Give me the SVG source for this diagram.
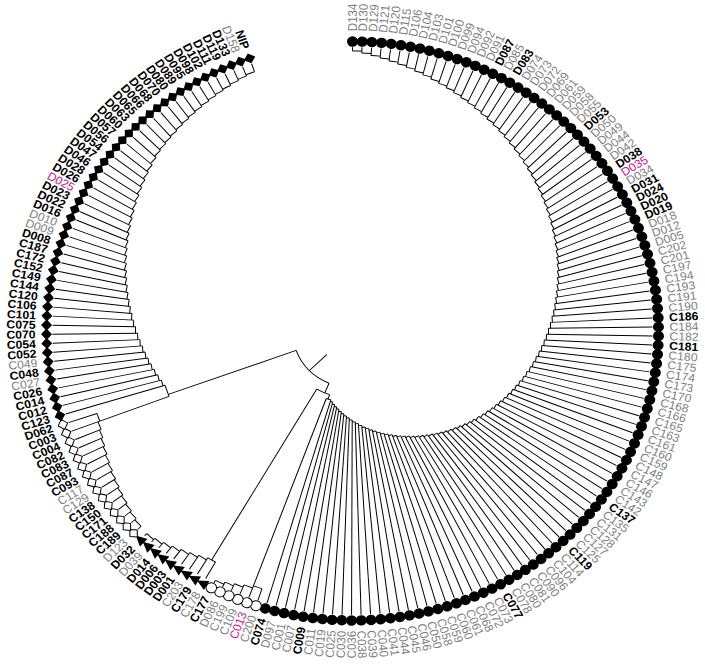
<svg xmlns="http://www.w3.org/2000/svg" width="705" height="671" viewBox="0 0 705 671">
<style>
text{font-family:"Liberation Sans",Arial,Helvetica,sans-serif;font-size:12.2px}
.g{fill:#808080}
.b{fill:#000;font-weight:bold}
.m{fill:#c0168e}
.f{text-anchor:end}
#edges path{stroke:#000;stroke-width:1;fill:none}
#edges circle{fill:none;stroke:#000;stroke-width:1;stroke-dasharray:1.82 400}
</style>
<defs>
<circle id="fc" r="5.5" fill="#000"/>
<circle id="oc" r="5.3" fill="#fff" stroke="#000" stroke-width="1"/>
<path id="tr" d="M0,6.5L-5.5,-4.5L5.5,-4.5Z" fill="#000"/>
<path id="fd" d="M-5.5,0L0,-6L5.5,0L0,6Z" fill="#000"/>
<path id="od" d="M-5,0L0,-5.5L5,0L0,5.5Z" fill="#fff" stroke="#000" stroke-width="1"/>
</defs>
<rect width="705" height="671" fill="#fff"/>
<g transform="translate(352.5,331) scale(1,0.946)">
<g id="edges">
<path transform="rotate(135.9)" d="M36 0H60"/>
<circle transform="rotate(113)" r="60" pathLength="360" style="stroke-dasharray:47 400"/>
<path transform="rotate(113)" d="M60 0H71"/>
<circle transform="rotate(108.8)" r="71" pathLength="360" style="stroke-dasharray:11.4 400"/>
<path transform="rotate(108.8)" d="M71 0H76"/>
<circle transform="rotate(106.56)" r="76" pathLength="360" style="stroke-dasharray:3.64 400"/>
<path transform="rotate(110.2)" d="M76 0H287"/>
<path transform="rotate(120.2)" d="M71 0H280"/>
<path transform="rotate(160)" d="M60 0H196"/>
<circle transform="rotate(159.34)" r="196" pathLength="360" style="stroke-dasharray:3.64 400"/>
<path transform="rotate(159.34)" d="M196 0H270"/>
<path transform="rotate(-90)" d="M296 0H300"/><circle transform="rotate(-90)" r="296" pathLength="360"/>
<path transform="rotate(-88.18)" d="M294 0H300"/><circle transform="rotate(-88.18)" r="294" pathLength="360"/>
<path transform="rotate(-86.36)" d="M291.9 0H300"/><circle transform="rotate(-86.36)" r="291.9" pathLength="360"/>
<path transform="rotate(-84.54)" d="M289.9 0H300"/><circle transform="rotate(-84.54)" r="289.9" pathLength="360"/>
<path transform="rotate(-82.72)" d="M287.8 0H300"/><circle transform="rotate(-82.72)" r="287.8" pathLength="360"/>
<path transform="rotate(-80.9)" d="M285.8 0H300"/><circle transform="rotate(-80.9)" r="285.8" pathLength="360"/>
<path transform="rotate(-79.08)" d="M283.8 0H300"/><circle transform="rotate(-79.08)" r="283.8" pathLength="360"/>
<path transform="rotate(-77.26)" d="M281.7 0H300"/><circle transform="rotate(-77.26)" r="281.7" pathLength="360"/>
<path transform="rotate(-75.44)" d="M279.7 0H300"/><circle transform="rotate(-75.44)" r="279.7" pathLength="360"/>
<path transform="rotate(-73.62)" d="M277.6 0H300"/><circle transform="rotate(-73.62)" r="277.6" pathLength="360"/>
<path transform="rotate(-71.8)" d="M275.6 0H300"/><circle transform="rotate(-71.8)" r="275.6" pathLength="360"/>
<path transform="rotate(-69.98)" d="M273.6 0H300"/><circle transform="rotate(-69.98)" r="273.6" pathLength="360"/>
<path transform="rotate(-68.16)" d="M271.5 0H300"/><circle transform="rotate(-68.16)" r="271.5" pathLength="360"/>
<path transform="rotate(-66.34)" d="M269.5 0H300"/><circle transform="rotate(-66.34)" r="269.5" pathLength="360"/>
<path transform="rotate(-64.52)" d="M267.4 0H300"/><circle transform="rotate(-64.52)" r="267.4" pathLength="360"/>
<path transform="rotate(-62.7)" d="M265.4 0H300"/><circle transform="rotate(-62.7)" r="265.4" pathLength="360"/>
<path transform="rotate(-60.88)" d="M263.4 0H300"/><circle transform="rotate(-60.88)" r="263.4" pathLength="360"/>
<path transform="rotate(-59.06)" d="M261.3 0H300"/><circle transform="rotate(-59.06)" r="261.3" pathLength="360"/>
<path transform="rotate(-57.24)" d="M259.3 0H300"/><circle transform="rotate(-57.24)" r="259.3" pathLength="360"/>
<path transform="rotate(-55.42)" d="M257.2 0H300"/><circle transform="rotate(-55.42)" r="257.2" pathLength="360"/>
<path transform="rotate(-53.6)" d="M255.2 0H300"/><circle transform="rotate(-53.6)" r="255.2" pathLength="360"/>
<path transform="rotate(-51.78)" d="M253.2 0H300"/><circle transform="rotate(-51.78)" r="253.2" pathLength="360"/>
<path transform="rotate(-49.96)" d="M251.1 0H300"/><circle transform="rotate(-49.96)" r="251.1" pathLength="360"/>
<path transform="rotate(-48.14)" d="M249.1 0H300"/><circle transform="rotate(-48.14)" r="249.1" pathLength="360"/>
<path transform="rotate(-46.32)" d="M247 0H300"/><circle transform="rotate(-46.32)" r="247" pathLength="360"/>
<path transform="rotate(-44.5)" d="M245 0H300"/><circle transform="rotate(-44.5)" r="245" pathLength="360"/>
<path transform="rotate(-42.68)" d="M243 0H300"/><circle transform="rotate(-42.68)" r="243" pathLength="360"/>
<path transform="rotate(-40.86)" d="M240.9 0H300"/><circle transform="rotate(-40.86)" r="240.9" pathLength="360"/>
<path transform="rotate(-39.04)" d="M238.9 0H300"/><circle transform="rotate(-39.04)" r="238.9" pathLength="360"/>
<path transform="rotate(-37.22)" d="M236.8 0H300"/><circle transform="rotate(-37.22)" r="236.8" pathLength="360"/>
<path transform="rotate(-35.4)" d="M234.8 0H300"/><circle transform="rotate(-35.4)" r="234.8" pathLength="360"/>
<path transform="rotate(-33.58)" d="M232.8 0H300"/><circle transform="rotate(-33.58)" r="232.8" pathLength="360"/>
<path transform="rotate(-31.76)" d="M230.7 0H300"/><circle transform="rotate(-31.76)" r="230.7" pathLength="360"/>
<path transform="rotate(-29.94)" d="M228.7 0H300"/><circle transform="rotate(-29.94)" r="228.7" pathLength="360"/>
<path transform="rotate(-28.12)" d="M226.6 0H300"/><circle transform="rotate(-28.12)" r="226.6" pathLength="360"/>
<path transform="rotate(-26.3)" d="M224.6 0H300"/><circle transform="rotate(-26.3)" r="224.6" pathLength="360"/>
<path transform="rotate(-24.48)" d="M222.6 0H300"/><circle transform="rotate(-24.48)" r="222.6" pathLength="360"/>
<path transform="rotate(-22.66)" d="M220.5 0H300"/><circle transform="rotate(-22.66)" r="220.5" pathLength="360"/>
<path transform="rotate(-20.84)" d="M218.5 0H300"/><circle transform="rotate(-20.84)" r="218.5" pathLength="360"/>
<path transform="rotate(-19.02)" d="M216.4 0H300"/><circle transform="rotate(-19.02)" r="216.4" pathLength="360"/>
<path transform="rotate(-17.2)" d="M214.4 0H300"/><circle transform="rotate(-17.2)" r="214.4" pathLength="360"/>
<path transform="rotate(-15.38)" d="M212.4 0H300"/><circle transform="rotate(-15.38)" r="212.4" pathLength="360"/>
<path transform="rotate(-13.56)" d="M210.3 0H300"/><circle transform="rotate(-13.56)" r="210.3" pathLength="360"/>
<path transform="rotate(-11.74)" d="M208.3 0H300"/><circle transform="rotate(-11.74)" r="208.3" pathLength="360"/>
<path transform="rotate(-9.92)" d="M206.2 0H300"/><circle transform="rotate(-9.92)" r="206.2" pathLength="360"/>
<path transform="rotate(-8.1)" d="M204.2 0H300"/><circle transform="rotate(-8.1)" r="204.2" pathLength="360"/>
<path transform="rotate(-6.28)" d="M202.2 0H300"/><circle transform="rotate(-6.28)" r="202.2" pathLength="360"/>
<path transform="rotate(-4.46)" d="M200.1 0H300"/><circle transform="rotate(-4.46)" r="200.1" pathLength="360"/>
<path transform="rotate(-2.64)" d="M198.1 0H300"/><circle transform="rotate(-2.64)" r="198.1" pathLength="360"/>
<path transform="rotate(-0.82)" d="M196 0H300"/><circle transform="rotate(-0.82)" r="196" pathLength="360"/>
<path transform="rotate(1)" d="M194 0H300"/><circle transform="rotate(1)" r="194" pathLength="360"/>
<path transform="rotate(2.82)" d="M192 0H300"/><circle transform="rotate(2.82)" r="192" pathLength="360"/>
<path transform="rotate(4.64)" d="M189.9 0H300"/><circle transform="rotate(4.64)" r="189.9" pathLength="360"/>
<path transform="rotate(6.46)" d="M187.9 0H300"/><circle transform="rotate(6.46)" r="187.9" pathLength="360"/>
<path transform="rotate(8.28)" d="M185.8 0H300"/><circle transform="rotate(8.28)" r="185.8" pathLength="360"/>
<path transform="rotate(10.1)" d="M183.8 0H300"/><circle transform="rotate(10.1)" r="183.8" pathLength="360"/>
<path transform="rotate(11.92)" d="M181.8 0H300"/><circle transform="rotate(11.92)" r="181.8" pathLength="360"/>
<path transform="rotate(13.74)" d="M179.7 0H300"/><circle transform="rotate(13.74)" r="179.7" pathLength="360"/>
<path transform="rotate(15.56)" d="M177.7 0H300"/><circle transform="rotate(15.56)" r="177.7" pathLength="360"/>
<path transform="rotate(17.38)" d="M175.6 0H300"/><circle transform="rotate(17.38)" r="175.6" pathLength="360"/>
<path transform="rotate(19.2)" d="M173.6 0H300"/><circle transform="rotate(19.2)" r="173.6" pathLength="360"/>
<path transform="rotate(21.02)" d="M171.6 0H300"/><circle transform="rotate(21.02)" r="171.6" pathLength="360"/>
<path transform="rotate(22.84)" d="M169.5 0H300"/><circle transform="rotate(22.84)" r="169.5" pathLength="360"/>
<path transform="rotate(24.66)" d="M167.5 0H300"/><circle transform="rotate(24.66)" r="167.5" pathLength="360"/>
<path transform="rotate(26.48)" d="M165.4 0H300"/><circle transform="rotate(26.48)" r="165.4" pathLength="360"/>
<path transform="rotate(28.3)" d="M163.4 0H300"/><circle transform="rotate(28.3)" r="163.4" pathLength="360"/>
<path transform="rotate(30.12)" d="M161.4 0H300"/><circle transform="rotate(30.12)" r="161.4" pathLength="360"/>
<path transform="rotate(31.94)" d="M159.3 0H300"/><circle transform="rotate(31.94)" r="159.3" pathLength="360"/>
<path transform="rotate(33.76)" d="M157.3 0H300"/><circle transform="rotate(33.76)" r="157.3" pathLength="360"/>
<path transform="rotate(35.58)" d="M155.2 0H300"/><circle transform="rotate(35.58)" r="155.2" pathLength="360"/>
<path transform="rotate(37.4)" d="M153.2 0H300"/><circle transform="rotate(37.4)" r="153.2" pathLength="360"/>
<path transform="rotate(39.22)" d="M151.2 0H300"/><circle transform="rotate(39.22)" r="151.2" pathLength="360"/>
<path transform="rotate(41.04)" d="M149.1 0H300"/><circle transform="rotate(41.04)" r="149.1" pathLength="360"/>
<path transform="rotate(42.86)" d="M147.1 0H300"/><circle transform="rotate(42.86)" r="147.1" pathLength="360"/>
<path transform="rotate(44.68)" d="M145 0H300"/><circle transform="rotate(44.68)" r="145" pathLength="360"/>
<path transform="rotate(46.5)" d="M143 0H300"/><circle transform="rotate(46.5)" r="143" pathLength="360"/>
<path transform="rotate(48.32)" d="M141 0H300"/><circle transform="rotate(48.32)" r="141" pathLength="360"/>
<path transform="rotate(50.14)" d="M138.9 0H300"/><circle transform="rotate(50.14)" r="138.9" pathLength="360"/>
<path transform="rotate(51.96)" d="M136.9 0H300"/><circle transform="rotate(51.96)" r="136.9" pathLength="360"/>
<path transform="rotate(53.78)" d="M134.8 0H300"/><circle transform="rotate(53.78)" r="134.8" pathLength="360"/>
<path transform="rotate(55.6)" d="M132.8 0H300"/><circle transform="rotate(55.6)" r="132.8" pathLength="360"/>
<path transform="rotate(57.42)" d="M130.8 0H300"/><circle transform="rotate(57.42)" r="130.8" pathLength="360"/>
<path transform="rotate(59.24)" d="M128.7 0H300"/><circle transform="rotate(59.24)" r="128.7" pathLength="360"/>
<path transform="rotate(61.06)" d="M126.7 0H300"/><circle transform="rotate(61.06)" r="126.7" pathLength="360"/>
<path transform="rotate(62.88)" d="M124.6 0H300"/><circle transform="rotate(62.88)" r="124.6" pathLength="360"/>
<path transform="rotate(64.7)" d="M122.6 0H300"/><circle transform="rotate(64.7)" r="122.6" pathLength="360"/>
<path transform="rotate(66.52)" d="M120.6 0H300"/><circle transform="rotate(66.52)" r="120.6" pathLength="360"/>
<path transform="rotate(68.34)" d="M118.5 0H300"/><circle transform="rotate(68.34)" r="118.5" pathLength="360"/>
<path transform="rotate(70.16)" d="M116.5 0H300"/><circle transform="rotate(70.16)" r="116.5" pathLength="360"/>
<path transform="rotate(71.98)" d="M114.4 0H300"/><circle transform="rotate(71.98)" r="114.4" pathLength="360"/>
<path transform="rotate(73.8)" d="M112.4 0H300"/><circle transform="rotate(73.8)" r="112.4" pathLength="360"/>
<path transform="rotate(75.62)" d="M110.4 0H300"/><circle transform="rotate(75.62)" r="110.4" pathLength="360"/>
<path transform="rotate(77.44)" d="M108.3 0H300"/><circle transform="rotate(77.44)" r="108.3" pathLength="360"/>
<path transform="rotate(79.26)" d="M106.3 0H300"/><circle transform="rotate(79.26)" r="106.3" pathLength="360"/>
<path transform="rotate(81.08)" d="M104.2 0H300"/><circle transform="rotate(81.08)" r="104.2" pathLength="360"/>
<path transform="rotate(82.9)" d="M102.2 0H300"/><circle transform="rotate(82.9)" r="102.2" pathLength="360"/>
<path transform="rotate(84.72)" d="M100.2 0H300"/><circle transform="rotate(84.72)" r="100.2" pathLength="360"/>
<path transform="rotate(86.54)" d="M98.1 0H300"/><circle transform="rotate(86.54)" r="98.1" pathLength="360"/>
<path transform="rotate(88.36)" d="M96.1 0H300"/><circle transform="rotate(88.36)" r="96.1" pathLength="360"/>
<path transform="rotate(90.18)" d="M94 0H300"/><circle transform="rotate(90.18)" r="94" pathLength="360"/>
<path transform="rotate(92)" d="M92 0H300"/><circle transform="rotate(92)" r="92" pathLength="360"/>
<path transform="rotate(93.82)" d="M90 0H300"/><circle transform="rotate(93.82)" r="90" pathLength="360"/>
<path transform="rotate(95.64)" d="M87.9 0H300"/><circle transform="rotate(95.64)" r="87.9" pathLength="360"/>
<path transform="rotate(97.46)" d="M85.9 0H300"/><circle transform="rotate(97.46)" r="85.9" pathLength="360"/>
<path transform="rotate(99.28)" d="M83.8 0H300"/><circle transform="rotate(99.28)" r="83.8" pathLength="360"/>
<path transform="rotate(101.1)" d="M81.8 0H300"/><circle transform="rotate(101.1)" r="81.8" pathLength="360"/>
<path transform="rotate(102.92)" d="M79.8 0H300"/><circle transform="rotate(102.92)" r="79.8" pathLength="360"/>
<path transform="rotate(104.74)" d="M77.7 0H300"/><circle transform="rotate(104.74)" r="77.7" pathLength="360"/>
<path transform="rotate(106.56)" d="M75.7 0H300"/>
<path transform="rotate(108.38)" d="M287 0H300"/><circle transform="rotate(108.38)" r="287" pathLength="360"/>
<path transform="rotate(110.2)" d="M287 0H300"/>
<path transform="rotate(112.02)" d="M289.5 0H300"/><circle transform="rotate(110.2)" r="289.5" pathLength="360"/>
<path transform="rotate(113.84)" d="M292 0H300"/><circle transform="rotate(112.02)" r="292" pathLength="360"/>
<path transform="rotate(115.66)" d="M294.5 0H300"/><circle transform="rotate(113.84)" r="294.5" pathLength="360"/>
<path transform="rotate(117.48)" d="M297 0H300"/><circle transform="rotate(115.66)" r="297" pathLength="360"/>
<path transform="rotate(119.3)" d="M280 0H300"/><circle transform="rotate(119.3)" r="280" pathLength="360"/>
<path transform="rotate(121.12)" d="M280 0H300"/>
<path transform="rotate(122.94)" d="M282.5 0H300"/><circle transform="rotate(121.12)" r="282.5" pathLength="360"/>
<path transform="rotate(124.76)" d="M285 0H300"/><circle transform="rotate(122.94)" r="285" pathLength="360"/>
<path transform="rotate(126.58)" d="M287.5 0H300"/><circle transform="rotate(124.76)" r="287.5" pathLength="360"/>
<path transform="rotate(128.4)" d="M290 0H300"/><circle transform="rotate(126.58)" r="290" pathLength="360"/>
<path transform="rotate(130.22)" d="M292.5 0H300"/><circle transform="rotate(128.4)" r="292.5" pathLength="360"/>
<path transform="rotate(132.04)" d="M295 0H300"/><circle transform="rotate(130.22)" r="295" pathLength="360"/>
<path transform="rotate(133.86)" d="M297 0H300"/><circle transform="rotate(132.04)" r="297" pathLength="360"/>
<path transform="rotate(135.68)" d="M295.4 0H300"/><circle transform="rotate(135.68)" r="295.4" pathLength="360"/>
<path transform="rotate(137.5)" d="M293.4 0H300"/><circle transform="rotate(137.5)" r="293.4" pathLength="360"/>
<path transform="rotate(139.32)" d="M291.5 0H300"/><circle transform="rotate(139.32)" r="291.5" pathLength="360"/>
<path transform="rotate(141.14)" d="M289.5 0H300"/><circle transform="rotate(141.14)" r="289.5" pathLength="360"/>
<path transform="rotate(142.96)" d="M287.6 0H300"/><circle transform="rotate(142.96)" r="287.6" pathLength="360"/>
<path transform="rotate(144.78)" d="M285.6 0H300"/><circle transform="rotate(144.78)" r="285.6" pathLength="360"/>
<path transform="rotate(146.6)" d="M283.7 0H300"/><circle transform="rotate(146.6)" r="283.7" pathLength="360"/>
<path transform="rotate(148.42)" d="M281.7 0H300"/><circle transform="rotate(148.42)" r="281.7" pathLength="360"/>
<path transform="rotate(150.24)" d="M279.8 0H300"/><circle transform="rotate(150.24)" r="279.8" pathLength="360"/>
<path transform="rotate(152.06)" d="M277.8 0H300"/><circle transform="rotate(152.06)" r="277.8" pathLength="360"/>
<path transform="rotate(153.88)" d="M275.9 0H300"/><circle transform="rotate(153.88)" r="275.9" pathLength="360"/>
<path transform="rotate(155.7)" d="M273.9 0H300"/><circle transform="rotate(155.7)" r="273.9" pathLength="360"/>
<path transform="rotate(157.52)" d="M272 0H300"/><circle transform="rotate(157.52)" r="272" pathLength="360"/>
<path transform="rotate(159.34)" d="M270 0H300"/>
<path transform="rotate(161.16)" d="M270 0H300"/><circle transform="rotate(159.34)" r="270" pathLength="360"/>
<path transform="rotate(162.98)" d="M196 0H300"/>
<path transform="rotate(164.8)" d="M198.1 0H300"/><circle transform="rotate(162.98)" r="198.1" pathLength="360"/>
<path transform="rotate(166.62)" d="M200.2 0H300"/><circle transform="rotate(164.8)" r="200.2" pathLength="360"/>
<path transform="rotate(168.44)" d="M202.3 0H300"/><circle transform="rotate(166.62)" r="202.3" pathLength="360"/>
<path transform="rotate(170.26)" d="M204.4 0H300"/><circle transform="rotate(168.44)" r="204.4" pathLength="360"/>
<path transform="rotate(172.08)" d="M206.5 0H300"/><circle transform="rotate(170.26)" r="206.5" pathLength="360"/>
<path transform="rotate(173.9)" d="M208.6 0H300"/><circle transform="rotate(172.08)" r="208.6" pathLength="360"/>
<path transform="rotate(175.72)" d="M210.7 0H300"/><circle transform="rotate(173.9)" r="210.7" pathLength="360"/>
<path transform="rotate(177.54)" d="M212.8 0H300"/><circle transform="rotate(175.72)" r="212.8" pathLength="360"/>
<path transform="rotate(179.36)" d="M214.9 0H300"/><circle transform="rotate(177.54)" r="214.9" pathLength="360"/>
<path transform="rotate(181.18)" d="M217 0H300"/><circle transform="rotate(179.36)" r="217" pathLength="360"/>
<path transform="rotate(183)" d="M219.1 0H300"/><circle transform="rotate(181.18)" r="219.1" pathLength="360"/>
<path transform="rotate(184.82)" d="M221.3 0H300"/><circle transform="rotate(183)" r="221.3" pathLength="360"/>
<path transform="rotate(186.64)" d="M223.6 0H300"/><circle transform="rotate(184.82)" r="223.6" pathLength="360"/>
<path transform="rotate(188.46)" d="M225.8 0H300"/><circle transform="rotate(186.64)" r="225.8" pathLength="360"/>
<path transform="rotate(190.28)" d="M228.1 0H300"/><circle transform="rotate(188.46)" r="228.1" pathLength="360"/>
<path transform="rotate(192.1)" d="M230.3 0H300"/><circle transform="rotate(190.28)" r="230.3" pathLength="360"/>
<path transform="rotate(193.92)" d="M232.6 0H300"/><circle transform="rotate(192.1)" r="232.6" pathLength="360"/>
<path transform="rotate(195.74)" d="M234.8 0H300"/><circle transform="rotate(193.92)" r="234.8" pathLength="360"/>
<path transform="rotate(197.56)" d="M237.1 0H300"/><circle transform="rotate(195.74)" r="237.1" pathLength="360"/>
<path transform="rotate(199.38)" d="M239.3 0H300"/><circle transform="rotate(197.56)" r="239.3" pathLength="360"/>
<path transform="rotate(201.2)" d="M241.6 0H300"/><circle transform="rotate(199.38)" r="241.6" pathLength="360"/>
<path transform="rotate(203.02)" d="M243.8 0H300"/><circle transform="rotate(201.2)" r="243.8" pathLength="360"/>
<path transform="rotate(204.84)" d="M246.1 0H300"/><circle transform="rotate(203.02)" r="246.1" pathLength="360"/>
<path transform="rotate(206.66)" d="M248.3 0H300"/><circle transform="rotate(204.84)" r="248.3" pathLength="360"/>
<path transform="rotate(208.48)" d="M250.6 0H300"/><circle transform="rotate(206.66)" r="250.6" pathLength="360"/>
<path transform="rotate(210.3)" d="M252.8 0H300"/><circle transform="rotate(208.48)" r="252.8" pathLength="360"/>
<path transform="rotate(212.12)" d="M255.1 0H300"/><circle transform="rotate(210.3)" r="255.1" pathLength="360"/>
<path transform="rotate(213.94)" d="M257.3 0H300"/><circle transform="rotate(212.12)" r="257.3" pathLength="360"/>
<path transform="rotate(215.76)" d="M259.6 0H300"/><circle transform="rotate(213.94)" r="259.6" pathLength="360"/>
<path transform="rotate(217.58)" d="M261.8 0H300"/><circle transform="rotate(215.76)" r="261.8" pathLength="360"/>
<path transform="rotate(219.4)" d="M264.1 0H300"/><circle transform="rotate(217.58)" r="264.1" pathLength="360"/>
<path transform="rotate(221.22)" d="M266.3 0H300"/><circle transform="rotate(219.4)" r="266.3" pathLength="360"/>
<path transform="rotate(223.04)" d="M268.6 0H300"/><circle transform="rotate(221.22)" r="268.6" pathLength="360"/>
<path transform="rotate(224.86)" d="M270.8 0H300"/><circle transform="rotate(223.04)" r="270.8" pathLength="360"/>
<path transform="rotate(226.68)" d="M272.2 0H300"/><circle transform="rotate(224.86)" r="272.2" pathLength="360"/>
<path transform="rotate(228.5)" d="M273.7 0H300"/><circle transform="rotate(226.68)" r="273.7" pathLength="360"/>
<path transform="rotate(230.32)" d="M275.1 0H300"/><circle transform="rotate(228.5)" r="275.1" pathLength="360"/>
<path transform="rotate(232.14)" d="M276.6 0H300"/><circle transform="rotate(230.32)" r="276.6" pathLength="360"/>
<path transform="rotate(233.96)" d="M278 0H300"/><circle transform="rotate(232.14)" r="278" pathLength="360"/>
<path transform="rotate(235.78)" d="M279.5 0H300"/><circle transform="rotate(233.96)" r="279.5" pathLength="360"/>
<path transform="rotate(237.6)" d="M280.9 0H300"/><circle transform="rotate(235.78)" r="280.9" pathLength="360"/>
<path transform="rotate(239.42)" d="M282.4 0H300"/><circle transform="rotate(237.6)" r="282.4" pathLength="360"/>
<path transform="rotate(241.24)" d="M283.8 0H300"/><circle transform="rotate(239.42)" r="283.8" pathLength="360"/>
<path transform="rotate(243.06)" d="M285.3 0H300"/><circle transform="rotate(241.24)" r="285.3" pathLength="360"/>
<path transform="rotate(244.88)" d="M286.7 0H300"/><circle transform="rotate(243.06)" r="286.7" pathLength="360"/>
<path transform="rotate(246.7)" d="M288.2 0H300"/><circle transform="rotate(244.88)" r="288.2" pathLength="360"/>
<path transform="rotate(248.52)" d="M289.6 0H300"/><circle transform="rotate(246.7)" r="289.6" pathLength="360"/>
<path transform="rotate(250.34)" d="M291.1 0H300"/><circle transform="rotate(248.52)" r="291.1" pathLength="360"/>
</g>
<g id="tips">
<g id="n-D134" transform="rotate(-90)"><use href="#fc" x="306"/><text class="g" x="317" y="4.3">D134</text></g>
<g id="n-D130" transform="rotate(-88.18)"><use href="#fc" x="306"/><text class="g" x="317" y="4.3">D130</text></g>
<g id="n-D129" transform="rotate(-86.36)"><use href="#fc" x="306"/><text class="g" x="317" y="4.3">D129</text></g>
<g id="n-D121" transform="rotate(-84.54)"><use href="#fc" x="306"/><text class="g" x="317" y="4.3">D121</text></g>
<g id="n-D120" transform="rotate(-82.72)"><use href="#fc" x="306"/><text class="g" x="317" y="4.3">D120</text></g>
<g id="n-D115" transform="rotate(-80.9)"><use href="#fc" x="306"/><text class="g" x="317" y="4.3">D115</text></g>
<g id="n-D106" transform="rotate(-79.08)"><use href="#fc" x="306"/><text class="g" x="317" y="4.3">D106</text></g>
<g id="n-D104" transform="rotate(-77.26)"><use href="#fc" x="306"/><text class="g" x="317" y="4.3">D104</text></g>
<g id="n-D103" transform="rotate(-75.44)"><use href="#fc" x="306"/><text class="g" x="317" y="4.3">D103</text></g>
<g id="n-D101" transform="rotate(-73.62)"><use href="#fc" x="306"/><text class="g" x="317" y="4.3">D101</text></g>
<g id="n-D100" transform="rotate(-71.8)"><use href="#fc" x="306"/><text class="g" x="317" y="4.3">D100</text></g>
<g id="n-D099" transform="rotate(-69.98)"><use href="#fc" x="306"/><text class="g" x="317" y="4.3">D099</text></g>
<g id="n-D094" transform="rotate(-68.16)"><use href="#fc" x="306"/><text class="g" x="317" y="4.3">D094</text></g>
<g id="n-D092" transform="rotate(-66.34)"><use href="#fc" x="306"/><text class="g" x="317" y="4.3">D092</text></g>
<g id="n-D091" transform="rotate(-64.52)"><use href="#fc" x="306"/><text class="g" x="317" y="4.3">D091</text></g>
<g id="n-D087" transform="rotate(-62.7)"><use href="#fc" x="306"/><text class="b" x="317" y="4.3">D087</text></g>
<g id="n-D085" transform="rotate(-60.88)"><use href="#fc" x="306"/><text class="g" x="317" y="4.3">D085</text></g>
<g id="n-D083" transform="rotate(-59.06)"><use href="#fc" x="306"/><text class="b" x="317" y="4.3">D083</text></g>
<g id="n-D074" transform="rotate(-57.24)"><use href="#fc" x="306"/><text class="g" x="317" y="4.3">D074</text></g>
<g id="n-D073" transform="rotate(-55.42)"><use href="#fc" x="306"/><text class="g" x="317" y="4.3">D073</text></g>
<g id="n-D072" transform="rotate(-53.6)"><use href="#fc" x="306"/><text class="g" x="317" y="4.3">D072</text></g>
<g id="n-D069" transform="rotate(-51.78)"><use href="#fc" x="306"/><text class="g" x="317" y="4.3">D069</text></g>
<g id="n-D061" transform="rotate(-49.96)"><use href="#fc" x="306"/><text class="g" x="317" y="4.3">D061</text></g>
<g id="n-D059" transform="rotate(-48.14)"><use href="#fc" x="306"/><text class="g" x="317" y="4.3">D059</text></g>
<g id="n-D058" transform="rotate(-46.32)"><use href="#fc" x="306"/><text class="g" x="317" y="4.3">D058</text></g>
<g id="n-D055" transform="rotate(-44.5)"><use href="#fc" x="306"/><text class="g" x="317" y="4.3">D055</text></g>
<g id="n-D053" transform="rotate(-42.68)"><use href="#fc" x="306"/><text class="b" x="317" y="4.3">D053</text></g>
<g id="n-D050" transform="rotate(-40.86)"><use href="#fc" x="306"/><text class="g" x="317" y="4.3">D050</text></g>
<g id="n-D049" transform="rotate(-39.04)"><use href="#fc" x="306"/><text class="g" x="317" y="4.3">D049</text></g>
<g id="n-D044" transform="rotate(-37.22)"><use href="#fc" x="306"/><text class="g" x="317" y="4.3">D044</text></g>
<g id="n-D042" transform="rotate(-35.4)"><use href="#fc" x="306"/><text class="g" x="317" y="4.3">D042</text></g>
<g id="n-D038" transform="rotate(-33.58)"><use href="#fc" x="306"/><text class="b" x="317" y="4.3">D038</text></g>
<g id="n-D035" transform="rotate(-31.76)"><use href="#fc" x="306"/><text class="m" x="317" y="4.3">D035</text></g>
<g id="n-D034" transform="rotate(-29.94)"><use href="#fc" x="306"/><text class="g" x="317" y="4.3">D034</text></g>
<g id="n-D031" transform="rotate(-28.12)"><use href="#fc" x="306"/><text class="b" x="317" y="4.3">D031</text></g>
<g id="n-D024" transform="rotate(-26.3)"><use href="#fc" x="306"/><text class="b" x="317" y="4.3">D024</text></g>
<g id="n-D020" transform="rotate(-24.48)"><use href="#fc" x="306"/><text class="b" x="317" y="4.3">D020</text></g>
<g id="n-D019" transform="rotate(-22.66)"><use href="#fc" x="306"/><text class="b" x="317" y="4.3">D019</text></g>
<g id="n-D018" transform="rotate(-20.84)"><use href="#fc" x="306"/><text class="g" x="317" y="4.3">D018</text></g>
<g id="n-D012" transform="rotate(-19.02)"><use href="#fc" x="306"/><text class="g" x="317" y="4.3">D012</text></g>
<g id="n-D005" transform="rotate(-17.2)"><use href="#fc" x="306"/><text class="g" x="317" y="4.3">D005</text></g>
<g id="n-C202" transform="rotate(-15.38)"><use href="#fc" x="306"/><text class="g" x="317" y="4.3">C202</text></g>
<g id="n-C201" transform="rotate(-13.56)"><use href="#fc" x="306"/><text class="g" x="317" y="4.3">C201</text></g>
<g id="n-C197" transform="rotate(-11.74)"><use href="#fc" x="306"/><text class="g" x="317" y="4.3">C197</text></g>
<g id="n-C194" transform="rotate(-9.92)"><use href="#fc" x="306"/><text class="g" x="317" y="4.3">C194</text></g>
<g id="n-C193" transform="rotate(-8.1)"><use href="#fc" x="306"/><text class="g" x="317" y="4.3">C193</text></g>
<g id="n-C191" transform="rotate(-6.28)"><use href="#fc" x="306"/><text class="g" x="317" y="4.3">C191</text></g>
<g id="n-C190" transform="rotate(-4.46)"><use href="#fc" x="306"/><text class="g" x="317" y="4.3">C190</text></g>
<g id="n-C186" transform="rotate(-2.64)"><use href="#fc" x="306"/><text class="b" x="317" y="4.3">C186</text></g>
<g id="n-C184" transform="rotate(-0.82)"><use href="#fc" x="306"/><text class="g" x="317" y="4.3">C184</text></g>
<g id="n-C182" transform="rotate(1)"><use href="#fc" x="306"/><text class="g" x="317" y="4.3">C182</text></g>
<g id="n-C181" transform="rotate(2.82)"><use href="#fc" x="306"/><text class="b" x="317" y="4.3">C181</text></g>
<g id="n-C180" transform="rotate(4.64)"><use href="#fc" x="306"/><text class="g" x="317" y="4.3">C180</text></g>
<g id="n-C175" transform="rotate(6.46)"><use href="#fc" x="306"/><text class="g" x="317" y="4.3">C175</text></g>
<g id="n-C174" transform="rotate(8.28)"><use href="#fc" x="306"/><text class="g" x="317" y="4.3">C174</text></g>
<g id="n-C173" transform="rotate(10.1)"><use href="#fc" x="306"/><text class="g" x="317" y="4.3">C173</text></g>
<g id="n-C170" transform="rotate(11.92)"><use href="#fc" x="306"/><text class="g" x="317" y="4.3">C170</text></g>
<g id="n-C168" transform="rotate(13.74)"><use href="#fc" x="306"/><text class="g" x="317" y="4.3">C168</text></g>
<g id="n-C166" transform="rotate(15.56)"><use href="#fc" x="306"/><text class="g" x="317" y="4.3">C166</text></g>
<g id="n-C165" transform="rotate(17.38)"><use href="#fc" x="306"/><text class="g" x="317" y="4.3">C165</text></g>
<g id="n-C163" transform="rotate(19.2)"><use href="#fc" x="306"/><text class="g" x="317" y="4.3">C163</text></g>
<g id="n-C161" transform="rotate(21.02)"><use href="#fc" x="306"/><text class="g" x="317" y="4.3">C161</text></g>
<g id="n-C160" transform="rotate(22.84)"><use href="#fc" x="306"/><text class="g" x="317" y="4.3">C160</text></g>
<g id="n-C159" transform="rotate(24.66)"><use href="#fc" x="306"/><text class="g" x="317" y="4.3">C159</text></g>
<g id="n-C148" transform="rotate(26.48)"><use href="#fc" x="306"/><text class="g" x="317" y="4.3">C148</text></g>
<g id="n-C147" transform="rotate(28.3)"><use href="#fc" x="306"/><text class="g" x="317" y="4.3">C147</text></g>
<g id="n-C146" transform="rotate(30.12)"><use href="#fc" x="306"/><text class="g" x="317" y="4.3">C146</text></g>
<g id="n-C143" transform="rotate(31.94)"><use href="#fc" x="306"/><text class="g" x="317" y="4.3">C143</text></g>
<g id="n-C142" transform="rotate(33.76)"><use href="#fc" x="306"/><text class="g" x="317" y="4.3">C142</text></g>
<g id="n-C137" transform="rotate(35.58)"><use href="#fc" x="306"/><text class="b" x="317" y="4.3">C137</text></g>
<g id="n-C135" transform="rotate(37.4)"><use href="#fc" x="306"/><text class="g" x="317" y="4.3">C135</text></g>
<g id="n-C131" transform="rotate(39.22)"><use href="#fc" x="306"/><text class="g" x="317" y="4.3">C131</text></g>
<g id="n-C128" transform="rotate(41.04)"><use href="#fc" x="306"/><text class="g" x="317" y="4.3">C128</text></g>
<g id="n-C127" transform="rotate(42.86)"><use href="#fc" x="306"/><text class="g" x="317" y="4.3">C127</text></g>
<g id="n-C125" transform="rotate(44.68)"><use href="#fc" x="306"/><text class="g" x="317" y="4.3">C125</text></g>
<g id="n-C119" transform="rotate(46.5)"><use href="#fc" x="306"/><text class="b" x="317" y="4.3">C119</text></g>
<g id="n-C114" transform="rotate(48.32)"><use href="#fc" x="306"/><text class="g" x="317" y="4.3">C114</text></g>
<g id="n-C104" transform="rotate(50.14)"><use href="#fc" x="306"/><text class="g" x="317" y="4.3">C104</text></g>
<g id="n-C096" transform="rotate(51.96)"><use href="#fc" x="306"/><text class="g" x="317" y="4.3">C096</text></g>
<g id="n-C090" transform="rotate(53.78)"><use href="#fc" x="306"/><text class="g" x="317" y="4.3">C090</text></g>
<g id="n-C081" transform="rotate(55.6)"><use href="#fc" x="306"/><text class="g" x="317" y="4.3">C081</text></g>
<g id="n-C080" transform="rotate(57.42)"><use href="#fc" x="306"/><text class="g" x="317" y="4.3">C080</text></g>
<g id="n-C078" transform="rotate(59.24)"><use href="#fc" x="306"/><text class="g" x="317" y="4.3">C078</text></g>
<g id="n-C077" transform="rotate(61.06)"><use href="#fc" x="306"/><text class="b" x="317" y="4.3">C077</text></g>
<g id="n-C073" transform="rotate(62.88)"><use href="#fc" x="306"/><text class="g" x="317" y="4.3">C073</text></g>
<g id="n-C072" transform="rotate(64.7)"><use href="#fc" x="306"/><text class="g" x="317" y="4.3">C072</text></g>
<g id="n-C068" transform="rotate(66.52)"><use href="#fc" x="306"/><text class="g" x="317" y="4.3">C068</text></g>
<g id="n-C061" transform="rotate(68.34)"><use href="#fc" x="306"/><text class="g" x="317" y="4.3">C061</text></g>
<g id="n-C060" transform="rotate(70.16)"><use href="#fc" x="306"/><text class="g" x="317" y="4.3">C060</text></g>
<g id="n-C059" transform="rotate(71.98)"><use href="#fc" x="306"/><text class="g" x="317" y="4.3">C059</text></g>
<g id="n-C058" transform="rotate(73.8)"><use href="#fc" x="306"/><text class="g" x="317" y="4.3">C058</text></g>
<g id="n-C050" transform="rotate(75.62)"><use href="#fc" x="306"/><text class="g" x="317" y="4.3">C050</text></g>
<g id="n-C046" transform="rotate(77.44)"><use href="#fc" x="306"/><text class="g" x="317" y="4.3">C046</text></g>
<g id="n-C045" transform="rotate(79.26)"><use href="#fc" x="306"/><text class="g" x="317" y="4.3">C045</text></g>
<g id="n-C044" transform="rotate(81.08)"><use href="#fc" x="306"/><text class="g" x="317" y="4.3">C044</text></g>
<g id="n-C041" transform="rotate(82.9)"><use href="#fc" x="306"/><text class="g" x="317" y="4.3">C041</text></g>
<g id="n-C040" transform="rotate(84.72)"><use href="#fc" x="306"/><text class="g" x="317" y="4.3">C040</text></g>
<g id="n-C039" transform="rotate(86.54)"><use href="#fc" x="306"/><text class="g" x="317" y="4.3">C039</text></g>
<g id="n-C038" transform="rotate(88.36)"><use href="#fc" x="306"/><text class="g" x="317" y="4.3">C038</text></g>
<g id="n-C036" transform="rotate(90.18)"><use href="#fc" x="306"/><text class="g f" transform="rotate(180)" x="-317" y="4.3">C036</text></g>
<g id="n-C030" transform="rotate(92)"><use href="#fc" x="306"/><text class="g f" transform="rotate(180)" x="-317" y="4.3">C030</text></g>
<g id="n-C025" transform="rotate(93.82)"><use href="#fc" x="306"/><text class="g f" transform="rotate(180)" x="-317" y="4.3">C025</text></g>
<g id="n-C019" transform="rotate(95.64)"><use href="#fc" x="306"/><text class="g f" transform="rotate(180)" x="-317" y="4.3">C019</text></g>
<g id="n-C011" transform="rotate(97.46)"><use href="#fc" x="306"/><text class="g f" transform="rotate(180)" x="-317" y="4.3">C011</text></g>
<g id="n-C009" transform="rotate(99.28)"><use href="#fc" x="306"/><text class="b f" transform="rotate(180)" x="-317" y="4.3">C009</text></g>
<g id="n-C007" transform="rotate(101.1)"><use href="#fc" x="306"/><text class="g f" transform="rotate(180)" x="-317" y="4.3">C007</text></g>
<g id="n-C001" transform="rotate(102.92)"><use href="#fc" x="306"/><text class="g f" transform="rotate(180)" x="-317" y="4.3">C001</text></g>
<g id="n-D097" transform="rotate(104.74)"><use href="#fc" x="306"/><text class="g f" transform="rotate(180)" x="-317" y="4.3">D097</text></g>
<g id="n-C074" transform="rotate(106.56)"><use href="#fc" x="306"/><text class="b f" transform="rotate(180)" x="-317" y="4.3">C074</text></g>
<g id="n-C200" transform="rotate(108.38)"><use href="#oc" x="306"/><text class="g f" transform="rotate(180)" x="-317" y="4.3">C200</text></g>
<g id="n-C013" transform="rotate(110.2)"><use href="#oc" x="306"/><text class="m f" transform="rotate(180)" x="-317" y="4.3">C013</text></g>
<g id="n-C109" transform="rotate(112.02)"><use href="#oc" x="306"/><text class="g f" transform="rotate(180)" x="-317" y="4.3">C109</text></g>
<g id="n-C199" transform="rotate(113.84)"><use href="#oc" x="306"/><text class="g f" transform="rotate(180)" x="-317" y="4.3">C199</text></g>
<g id="n-D086" transform="rotate(115.66)"><use href="#oc" x="306"/><text class="g f" transform="rotate(180)" x="-317" y="4.3">D086</text></g>
<g id="n-C177" transform="rotate(117.48)"><use href="#oc" x="306"/><text class="b f" transform="rotate(180)" x="-317" y="4.3">C177</text></g>
<g id="n-C178" transform="rotate(119.3)"><use href="#tr" x="306"/><text class="g f" transform="rotate(180)" x="-317" y="4.3">C178</text></g>
<g id="n-C179" transform="rotate(121.12)"><use href="#tr" x="306"/><text class="b f" transform="rotate(180)" x="-317" y="4.3">C179</text></g>
<g id="n-C203" transform="rotate(122.94)"><use href="#tr" x="306"/><text class="g f" transform="rotate(180)" x="-317" y="4.3">C203</text></g>
<g id="n-D001" transform="rotate(124.76)"><use href="#tr" x="306"/><text class="b f" transform="rotate(180)" x="-317" y="4.3">D001</text></g>
<g id="n-D003" transform="rotate(126.58)"><use href="#tr" x="306"/><text class="b f" transform="rotate(180)" x="-317" y="4.3">D003</text></g>
<g id="n-D006" transform="rotate(128.4)"><use href="#tr" x="306"/><text class="b f" transform="rotate(180)" x="-317" y="4.3">D006</text></g>
<g id="n-D014" transform="rotate(130.22)"><use href="#tr" x="306"/><text class="b f" transform="rotate(180)" x="-317" y="4.3">D014</text></g>
<g id="n-D039" transform="rotate(132.04)"><use href="#tr" x="306"/><text class="g f" transform="rotate(180)" x="-317" y="4.3">D039</text></g>
<g id="n-D032" transform="rotate(133.86)"><use href="#tr" x="306"/><text class="b f" transform="rotate(180)" x="-317" y="4.3">D032</text></g>
<g id="n-D123" transform="rotate(135.68)"><use href="#od" x="306"/><text class="g f" transform="rotate(180)" x="-317" y="4.3">D123</text></g>
<g id="n-C189" transform="rotate(137.5)"><use href="#od" x="306"/><text class="b f" transform="rotate(180)" x="-317" y="4.3">C189</text></g>
<g id="n-C188" transform="rotate(139.32)"><use href="#od" x="306"/><text class="b f" transform="rotate(180)" x="-317" y="4.3">C188</text></g>
<g id="n-C171" transform="rotate(141.14)"><use href="#od" x="306"/><text class="b f" transform="rotate(180)" x="-317" y="4.3">C171</text></g>
<g id="n-C150" transform="rotate(142.96)"><use href="#od" x="306"/><text class="b f" transform="rotate(180)" x="-317" y="4.3">C150</text></g>
<g id="n-C138" transform="rotate(144.78)"><use href="#od" x="306"/><text class="b f" transform="rotate(180)" x="-317" y="4.3">C138</text></g>
<g id="n-C129" transform="rotate(146.6)"><use href="#od" x="306"/><text class="g f" transform="rotate(180)" x="-317" y="4.3">C129</text></g>
<g id="n-C117" transform="rotate(148.42)"><use href="#od" x="306"/><text class="g f" transform="rotate(180)" x="-317" y="4.3">C117</text></g>
<g id="n-C093" transform="rotate(150.24)"><use href="#od" x="306"/><text class="b f" transform="rotate(180)" x="-317" y="4.3">C093</text></g>
<g id="n-C087" transform="rotate(152.06)"><use href="#od" x="306"/><text class="b f" transform="rotate(180)" x="-317" y="4.3">C087</text></g>
<g id="n-C083" transform="rotate(153.88)"><use href="#od" x="306"/><text class="b f" transform="rotate(180)" x="-317" y="4.3">C083</text></g>
<g id="n-C082" transform="rotate(155.7)"><use href="#od" x="306"/><text class="b f" transform="rotate(180)" x="-317" y="4.3">C082</text></g>
<g id="n-C004" transform="rotate(157.52)"><use href="#od" x="306"/><text class="b f" transform="rotate(180)" x="-317" y="4.3">C004</text></g>
<g id="n-C003" transform="rotate(159.34)"><use href="#od" x="306"/><text class="b f" transform="rotate(180)" x="-317" y="4.3">C003</text></g>
<g id="n-D062" transform="rotate(161.16)"><use href="#od" x="306"/><text class="b f" transform="rotate(180)" x="-317" y="4.3">D062</text></g>
<g id="n-C123" transform="rotate(162.98)"><use href="#fd" x="306"/><text class="b f" transform="rotate(180)" x="-317" y="4.3">C123</text></g>
<g id="n-C012" transform="rotate(164.8)"><use href="#fd" x="306"/><text class="b f" transform="rotate(180)" x="-317" y="4.3">C012</text></g>
<g id="n-C014" transform="rotate(166.62)"><use href="#fd" x="306"/><text class="b f" transform="rotate(180)" x="-317" y="4.3">C014</text></g>
<g id="n-C026" transform="rotate(168.44)"><use href="#fd" x="306"/><text class="b f" transform="rotate(180)" x="-317" y="4.3">C026</text></g>
<g id="n-C027" transform="rotate(170.26)"><use href="#fd" x="306"/><text class="g f" transform="rotate(180)" x="-317" y="4.3">C027</text></g>
<g id="n-C048" transform="rotate(172.08)"><use href="#fd" x="306"/><text class="b f" transform="rotate(180)" x="-317" y="4.3">C048</text></g>
<g id="n-C049" transform="rotate(173.9)"><use href="#fd" x="306"/><text class="g f" transform="rotate(180)" x="-317" y="4.3">C049</text></g>
<g id="n-C052" transform="rotate(175.72)"><use href="#fd" x="306"/><text class="b f" transform="rotate(180)" x="-317" y="4.3">C052</text></g>
<g id="n-C054" transform="rotate(177.54)"><use href="#fd" x="306"/><text class="b f" transform="rotate(180)" x="-317" y="4.3">C054</text></g>
<g id="n-C070" transform="rotate(179.36)"><use href="#fd" x="306"/><text class="b f" transform="rotate(180)" x="-317" y="4.3">C070</text></g>
<g id="n-C075" transform="rotate(181.18)"><use href="#fd" x="306"/><text class="b f" transform="rotate(180)" x="-317" y="4.3">C075</text></g>
<g id="n-C101" transform="rotate(183)"><use href="#fd" x="306"/><text class="b f" transform="rotate(180)" x="-317" y="4.3">C101</text></g>
<g id="n-C106" transform="rotate(184.82)"><use href="#fd" x="306"/><text class="b f" transform="rotate(180)" x="-317" y="4.3">C106</text></g>
<g id="n-C120" transform="rotate(186.64)"><use href="#fd" x="306"/><text class="b f" transform="rotate(180)" x="-317" y="4.3">C120</text></g>
<g id="n-C144" transform="rotate(188.46)"><use href="#fd" x="306"/><text class="b f" transform="rotate(180)" x="-317" y="4.3">C144</text></g>
<g id="n-C149" transform="rotate(190.28)"><use href="#fd" x="306"/><text class="b f" transform="rotate(180)" x="-317" y="4.3">C149</text></g>
<g id="n-C152" transform="rotate(192.1)"><use href="#fd" x="306"/><text class="b f" transform="rotate(180)" x="-317" y="4.3">C152</text></g>
<g id="n-C172" transform="rotate(193.92)"><use href="#fd" x="306"/><text class="b f" transform="rotate(180)" x="-317" y="4.3">C172</text></g>
<g id="n-C187" transform="rotate(195.74)"><use href="#fd" x="306"/><text class="b f" transform="rotate(180)" x="-317" y="4.3">C187</text></g>
<g id="n-D008" transform="rotate(197.56)"><use href="#fd" x="306"/><text class="b f" transform="rotate(180)" x="-317" y="4.3">D008</text></g>
<g id="n-D009" transform="rotate(199.38)"><use href="#fd" x="306"/><text class="g f" transform="rotate(180)" x="-317" y="4.3">D009</text></g>
<g id="n-D010" transform="rotate(201.2)"><use href="#fd" x="306"/><text class="g f" transform="rotate(180)" x="-317" y="4.3">D010</text></g>
<g id="n-D016" transform="rotate(203.02)"><use href="#fd" x="306"/><text class="b f" transform="rotate(180)" x="-317" y="4.3">D016</text></g>
<g id="n-D022" transform="rotate(204.84)"><use href="#fd" x="306"/><text class="b f" transform="rotate(180)" x="-317" y="4.3">D022</text></g>
<g id="n-D023" transform="rotate(206.66)"><use href="#fd" x="306"/><text class="b f" transform="rotate(180)" x="-317" y="4.3">D023</text></g>
<g id="n-D025" transform="rotate(208.48)"><use href="#fd" x="306"/><text class="m f" transform="rotate(180)" x="-317" y="4.3">D025</text></g>
<g id="n-D026" transform="rotate(210.3)"><use href="#fd" x="306"/><text class="b f" transform="rotate(180)" x="-317" y="4.3">D026</text></g>
<g id="n-D028" transform="rotate(212.12)"><use href="#fd" x="306"/><text class="b f" transform="rotate(180)" x="-317" y="4.3">D028</text></g>
<g id="n-D046" transform="rotate(213.94)"><use href="#fd" x="306"/><text class="b f" transform="rotate(180)" x="-317" y="4.3">D046</text></g>
<g id="n-D047" transform="rotate(215.76)"><use href="#fd" x="306"/><text class="b f" transform="rotate(180)" x="-317" y="4.3">D047</text></g>
<g id="n-D054" transform="rotate(217.58)"><use href="#fd" x="306"/><text class="b f" transform="rotate(180)" x="-317" y="4.3">D054</text></g>
<g id="n-D056" transform="rotate(219.4)"><use href="#fd" x="306"/><text class="b f" transform="rotate(180)" x="-317" y="4.3">D056</text></g>
<g id="n-D057" transform="rotate(221.22)"><use href="#fd" x="306"/><text class="b f" transform="rotate(180)" x="-317" y="4.3">D057</text></g>
<g id="n-D060" transform="rotate(223.04)"><use href="#fd" x="306"/><text class="b f" transform="rotate(180)" x="-317" y="4.3">D060</text></g>
<g id="n-D063" transform="rotate(224.86)"><use href="#fd" x="306"/><text class="b f" transform="rotate(180)" x="-317" y="4.3">D063</text></g>
<g id="n-D065" transform="rotate(226.68)"><use href="#fd" x="306"/><text class="b f" transform="rotate(180)" x="-317" y="4.3">D065</text></g>
<g id="n-D066" transform="rotate(228.5)"><use href="#fd" x="306"/><text class="b f" transform="rotate(180)" x="-317" y="4.3">D066</text></g>
<g id="n-D068" transform="rotate(230.32)"><use href="#fd" x="306"/><text class="b f" transform="rotate(180)" x="-317" y="4.3">D068</text></g>
<g id="n-D070" transform="rotate(232.14)"><use href="#fd" x="306"/><text class="b f" transform="rotate(180)" x="-317" y="4.3">D070</text></g>
<g id="n-D080" transform="rotate(233.96)"><use href="#fd" x="306"/><text class="b f" transform="rotate(180)" x="-317" y="4.3">D080</text></g>
<g id="n-D089" transform="rotate(235.78)"><use href="#fd" x="306"/><text class="b f" transform="rotate(180)" x="-317" y="4.3">D089</text></g>
<g id="n-D095" transform="rotate(237.6)"><use href="#fd" x="306"/><text class="b f" transform="rotate(180)" x="-317" y="4.3">D095</text></g>
<g id="n-D098" transform="rotate(239.42)"><use href="#fd" x="306"/><text class="b f" transform="rotate(180)" x="-317" y="4.3">D098</text></g>
<g id="n-D102" transform="rotate(241.24)"><use href="#fd" x="306"/><text class="b f" transform="rotate(180)" x="-317" y="4.3">D102</text></g>
<g id="n-D111" transform="rotate(243.06)"><use href="#fd" x="306"/><text class="b f" transform="rotate(180)" x="-317" y="4.3">D111</text></g>
<g id="n-D119" transform="rotate(244.88)"><use href="#fd" x="306"/><text class="b f" transform="rotate(180)" x="-317" y="4.3">D119</text></g>
<g id="n-D133" transform="rotate(246.7)"><use href="#fd" x="306"/><text class="b f" transform="rotate(180)" x="-317" y="4.3">D133</text></g>
<g id="n-D158" transform="rotate(248.52)"><use href="#fd" x="306"/><text class="g f" transform="rotate(180)" x="-317" y="4.3">D158</text></g>
<g id="n-NIP" transform="rotate(250.34)"><use href="#fd" x="306"/><text class="b f" transform="rotate(180)" x="-317" y="4.3">NIP</text></g>
</g>
</g>
</svg>
